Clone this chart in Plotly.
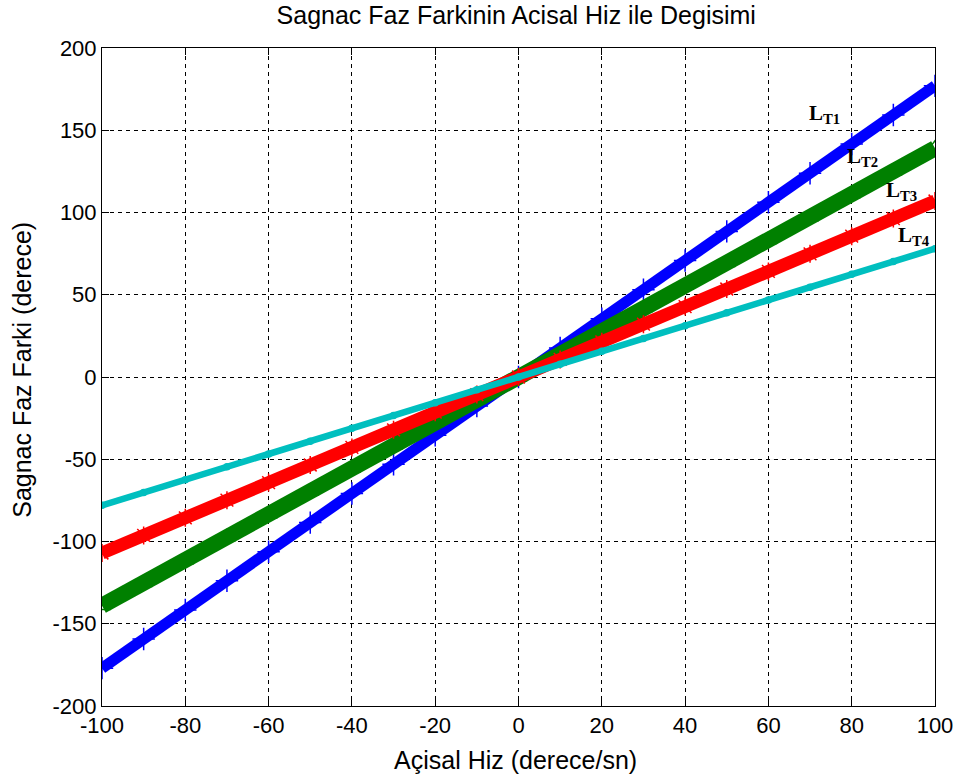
import plotly.graph_objects as go

# Angular velocity samples (derece/sn)
aci_hiz = [-100, -90, -80, -70, -60, -50, -40, -30, -20, -10, 0,
           10, 20, 30, 40, 50, 60, 70, 80, 90, 100]

# Sagnac phase difference (derece)
lt1 = [-177, -159.3, -141.6, -123.9, -106.2, -88.5, -70.8, -53.1, -35.4, -17.7, 0,
       17.7, 35.4, 53.1, 70.8, 88.5, 106.2, 123.9, 141.6, 159.3, 177]
lt2 = [-139, -125.1, -111.2, -97.3, -83.4, -69.5, -55.6, -41.7, -27.8, -13.9, 0,
       13.9, 27.8, 41.7, 55.6, 69.5, 83.4, 97.3, 111.2, 125.1, 139]
lt3 = [-107, -96.3, -85.6, -74.9, -64.2, -53.5, -42.8, -32.1, -21.4, -10.7, 0,
       10.7, 21.4, 32.1, 42.8, 53.5, 64.2, 74.9, 85.6, 96.3, 107]
lt4 = [-78, -70.2, -62.4, -54.6, -46.8, -39, -31.2, -23.4, -15.6, -7.8, 0,
       7.8, 15.6, 23.4, 31.2, 39, 46.8, 54.6, 62.4, 70.2, 78]

x_ticks = [-100, -80, -60, -40, -20, 0, 20, 40, 60, 80, 100]
x_ticktext = ["-100", "-80", "-60", "-40", "-20", "0", "20", "40", "60", "80", "100"]
y_ticks = [-200, -150, -100, -50, 0, 50, 100, 150, 200]
y_ticktext = ["-200", "-150", "-100", "-50", "0", "50", "100", "150", "200"]

labels = ["L<sub>T1</sub>", "L<sub>T2</sub>", "L<sub>T3</sub>", "L<sub>T4</sub>"]
label_x = [73.5, 82.5, 92, 95]
label_y = [160, 134, 113, 86]

series = [
    (lt1, "#0000ff", 11, "cross-thin-open", 16),
    (lt2, "#008000", 16, "triangle-up-open", 15),
    (lt3, "#ff0000", 13, "asterisk-open", 15),
    (lt4, "#00bfbf", 6.5, "circle", 6),
]

fig = go.Figure()
for vals, col, lw, sym, ms in series:
    fig.add_trace(go.Scatter(
        x=aci_hiz, y=vals, mode="lines+markers",
        line=dict(color=col, width=lw),
        marker=dict(symbol=sym, size=ms, color=col, line=dict(color=col, width=1.5)),
        showlegend=False, hoverinfo="skip"))

for t, xx, yy in zip(labels, label_x, label_y):
    fig.add_annotation(x=xx, y=yy, text="<b>" + t + "</b>", showarrow=False,
                       font=dict(family="Liberation Serif", size=21, color="black"))

axis_common = dict(
    showline=True, linecolor="black", linewidth=1, mirror="ticks",
    ticks="inside", ticklen=7, tickcolor="black", tickwidth=1,
    showgrid=True, gridcolor="black", gridwidth=1, griddash="4px,4px",
    zeroline=False, tickfont=dict(family="Liberation Sans", size=22, color="black"),
)

fig.update_xaxes(range=[-100, 100], tickvals=x_ticks, ticktext=x_ticktext, **axis_common)
fig.update_yaxes(range=[-200, 200], tickvals=y_ticks, ticktext=y_ticktext, **axis_common)

fig.add_annotation(xref="paper", yref="paper", x=0.496, y=-0.082,
                   text="Açisal Hiz (derece/sn)", showarrow=False,
                   xanchor="center", yanchor="middle",
                   font=dict(family="Liberation Sans", size=25, color="black"))
fig.add_annotation(xref="paper", yref="paper", x=-0.096, y=0.511,
                   text="Sagnac Faz Farki (derece)", showarrow=False, textangle=-90,
                   xanchor="center", yanchor="middle",
                   font=dict(family="Liberation Sans", size=25, color="black"))

fig.update_layout(
    width=956, height=780,
    margin=dict(l=102, r=21, t=48, b=74, autoexpand=False),
    paper_bgcolor="white", plot_bgcolor="white",
    title=dict(text="Sagnac Faz Farkinin Acisal Hiz ile Degisimi",
               xref="container", x=0.54, xanchor="center",
               yref="container", y=0.981, yanchor="middle",
               font=dict(family="Liberation Sans", size=25, color="black")),
)

fig.write_html("out.html", config={"displayModeBar": False},
               post_script="document.body.style.margin='0';document.body.style.overflow='hidden';")
